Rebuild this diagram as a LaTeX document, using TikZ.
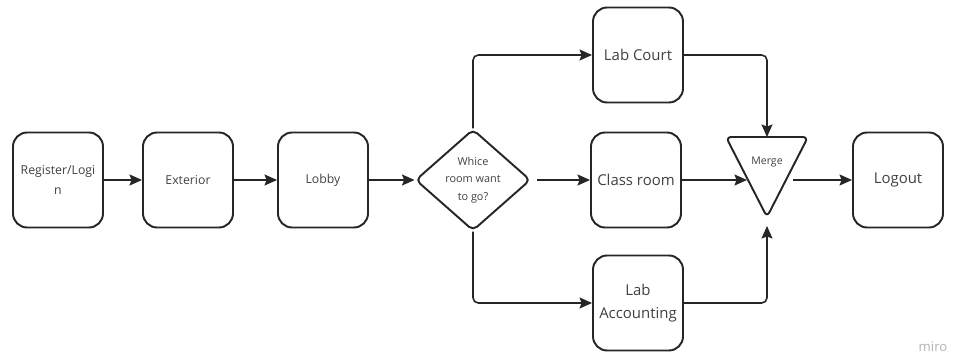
\documentclass[tikz,border=0pt]{standalone}
\usepackage{fontspec}
\setmainfont{Open Sans}
\usetikzlibrary{shapes.geometric,arrows.meta}

\definecolor{linecol}{HTML}{262626}
\definecolor{txtcol}{HTML}{404040}

\tikzset{
	room/.style={draw=linecol,line width=1.1pt,rounded corners=8pt,minimum width=1.8cm,minimum height=1.9cm,align=center,text=txtcol,inner sep=1pt,font=\fontsize{8.5}{13}\selectfont},
	smallroom/.style={room,font=\fontsize{7}{11.4}\selectfont},
	choice/.style={draw=linecol,line width=1.1pt,diamond,rounded corners=3pt,minimum width=2.3cm,minimum height=1.92cm,inner sep=0pt,align=center,text=txtcol,font=\fontsize{6.2}{10}\selectfont},
	flow/.style={draw=linecol,line width=0.9pt,-{Stealth[length=2.5mm,width=2.2mm,inset=0.4mm]}},
}

\begin{document}
\begin{tikzpicture}[x=0.02cm,y=-0.02cm]
	\useasboundingbox (0,0) rectangle (954,358);

	% main row
	\node[smallroom] (reg) at (58,180) {Register/Logi\\n};
	\node[smallroom] (ext) at (188,180) {Exterior};
	\node[smallroom] (lobby) at (323,180) {Lobby};
	\node[choice] (where) at (473,180) {Whice\\room want\\to go?};

	% rooms
	\node[room] (court) at (638,55) {Lab Court};
	\node[room] (classr) at (636,180) {Class room};
	\node[room] (acct) at (638,303) {Lab\\Accounting};
	\node[room] (logout) at (898,180) {Logout};

	% merge triangle
	\coordinate (mtl) at (726,137);
	\coordinate (mtr) at (808,137);
	\coordinate (mtb) at (767,217);
	\draw[linecol,line width=1.1pt,rounded corners=3pt] (mtl) -- (mtr) -- (mtb) -- cycle;
	\node[text=txtcol,font=\fontsize{6}{7}\selectfont] (merge) at (767,162) {Merge};
	\coordinate (mergetop) at (767,137);
	\coordinate (mergein) at (747,180);
	\coordinate (mergebot) at (767,226);
	\coordinate (mergeout) at (793,180);

	\draw[flow] (reg) -- (ext);
	\draw[flow] (ext) -- (lobby);
	\draw[flow] (lobby) -- (where);
	\draw[flow,rounded corners=3pt] (where.north) |- (court.west);
	\draw[flow,shorten <=3pt] (where.east) -- (classr.west);
	\draw[flow,rounded corners=3pt] (where.south) |- (acct.west);

	\draw[flow,rounded corners=3pt] (court.east) -| (mergetop);
	\draw[flow] (classr.east) -- (mergein);
	\draw[flow,rounded corners=3pt] (acct.east) -| (mergebot);
	\draw[flow] (mergeout) -- (logout.west);

	\node[text=black!30,font=\fontsize{7.5}{9}\selectfont] (brand) at (933,347) {miro};
\end{tikzpicture}
\end{document}
